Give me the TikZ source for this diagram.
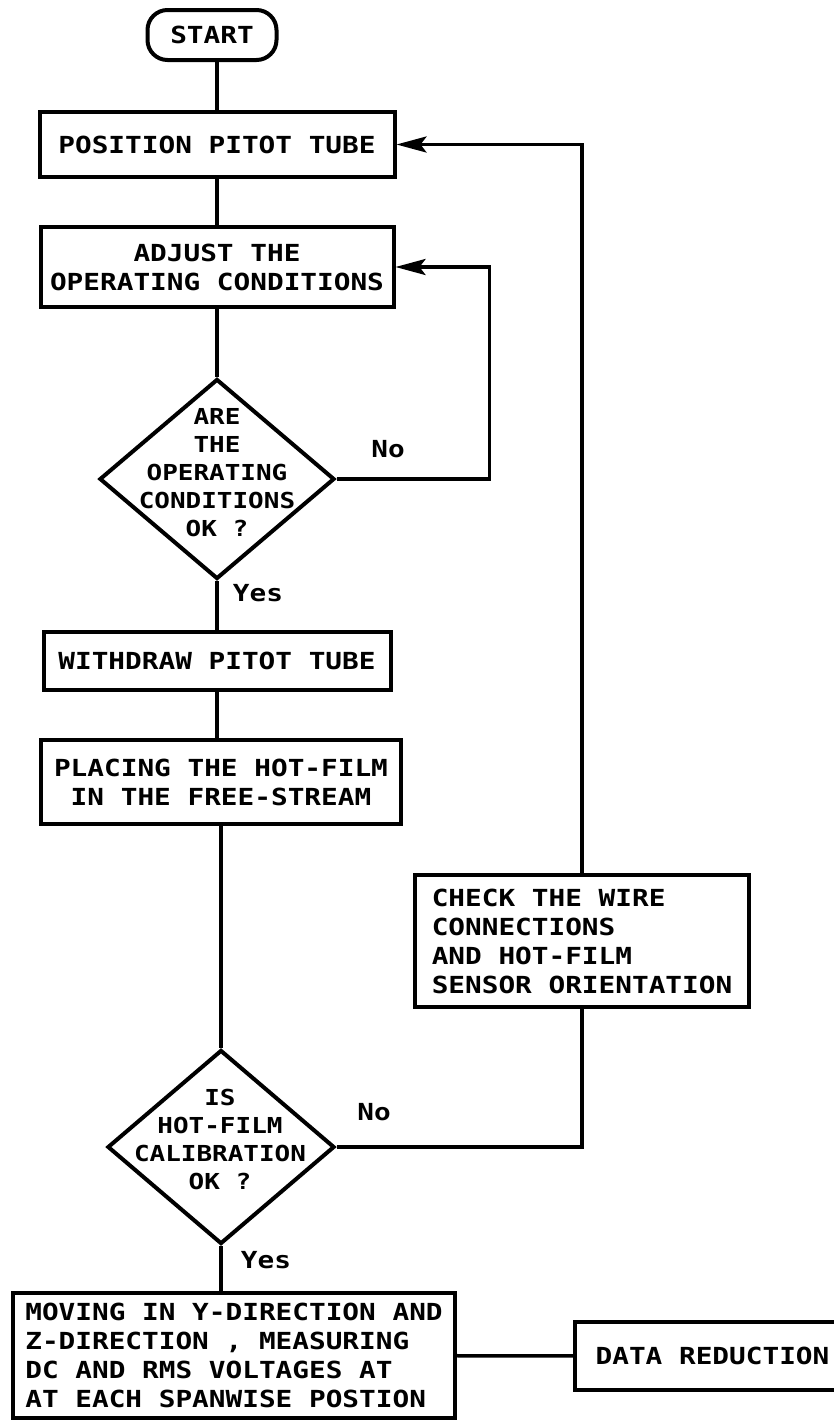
\documentclass[tikz,border=0pt]{standalone}
\usepackage{fontspec}
\newfontfamily\plotfont[FakeStretch=1.18]{DejaVu Sans Mono}
\usetikzlibrary{arrows.meta, shapes.geometric, positioning}

\begin{document}
\begin{tikzpicture}[x=1pt, y=-1pt, line width=3.5pt,
    >={Stealth[length=30pt,width=16pt,inset=6pt]},
    every node/.style={font=\plotfont\bfseries\fontsize{23.5}{29}\selectfont},
    box/.style={draw, rectangle, line width=4pt, inner sep=0pt, align=center},
    decide/.style={draw, diamond, line width=4pt, inner sep=0pt},
    qtext/.style={align=center, font=\plotfont\bfseries\fontsize{22}{28}\selectfont}]
  \useasboundingbox (0,0) rectangle (833,1422);

  % main column
  \node[box, rounded corners=20pt, minimum width=129, minimum height=50] (start) at (212,35) {START};
  \node[box, minimum width=355, minimum height=65] (pos) at (217,144.5) {POSITION PITOT TUBE};
  \node[box, minimum width=353, minimum height=80] (adj) at (217,267) {ADJUST THE\\OPERATING CONDITIONS};
  \node[decide, minimum width=235, minimum height=200] (d1) at (217,479) {};
  \node[qtext] (d1q) at (217,473) {ARE\\THE\\OPERATING\\CONDITIONS\\OK ?};
  \node[box, minimum width=347, minimum height=58] (wd) at (217,661) {WITHDRAW PITOT TUBE};
  \node[box, minimum width=360, minimum height=84] (plc) at (221,782) {PLACING THE HOT-FILM\\IN THE FREE-STREAM};
  \node[decide, minimum width=227, minimum height=194] (d2) at (221,1147) {};
  \node[qtext] (d2q) at (220,1139) {IS\\HOT-FILM\\CALIBRATION\\OK ?};
  \node[box, align=left, minimum width=442, minimum height=125] (mov) at (234,1355.5)
    {MOVING IN Y-DIRECTION AND\\Z-DIRECTION , MEASURING\\DC AND RMS VOLTAGES AT\\AT EACH SPANWISE POSTION};

  % side boxes
  \node[box, align=left, minimum width=334, minimum height=132] (chk) at (582,941)
    {CHECK THE WIRE\\CONNECTIONS\\AND HOT-FILM\\SENSOR ORIENTATION};
  \node[box, minimum width=275, minimum height=68] (data) at (712.5,1356) {DATA REDUCTION};

  % answers
  \node (no1) at (388,449) {No};
  \node (yes1) at (258,593) {Yes};
  \node (no2) at (374,1112) {No};
  \node (yes2) at (266,1260) {Yes};

  \draw (start.south -| pos.north) -- (pos.north);
  \draw (pos) -- (adj);
  \draw (adj) -- (d1);
  \draw (d1) -- (wd);
  \draw (wd.south) -- (wd.south |- plc.north);
  \draw (plc) -- (d2);
  \draw (d2.south) -- (d2.south |- mov.north);
  \draw[->] (d1.east) -- ++(153,0) |- (adj.east);
  \draw (d2.east) -| (chk.south);
  \draw[->] (chk.north) |- (pos.east);
  \draw (mov) -- (data);
\end{tikzpicture}
\end{document}
